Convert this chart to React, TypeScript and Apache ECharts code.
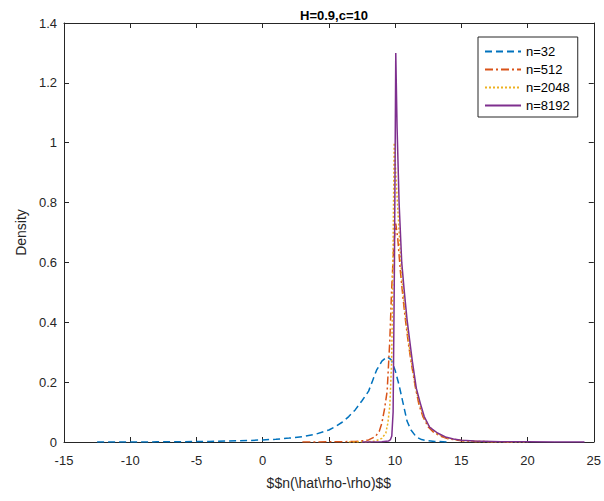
import React, { useEffect, useRef } from "react";
import * as echarts from "echarts";

const seriesNames = ["n=32", "n=512", "n=2048", "n=8192"];
const colors = ["#0072BD", "#D95319", "#EDB120", "#7E2F8E"];

const x32 = [-12.5, -11, -10, -8, -6, -4, -2, -1, 0, 1, 2, 3, 4, 5, 5.5, 6, 6.5, 7, 7.5, 8, 8.3, 8.6, 9, 9.4, 9.7, 10, 10.3, 10.6, 10.9, 11.2, 11.6, 12, 12.5, 13, 14];
const y32 = [0, 0, 0, 0.0005, 0.001, 0.002, 0.004, 0.005, 0.007, 0.009, 0.013, 0.018, 0.026, 0.04, 0.052, 0.066, 0.085, 0.108, 0.138, 0.17, 0.205, 0.24, 0.27, 0.285, 0.275, 0.24, 0.19, 0.13, 0.07, 0.04, 0.017, 0.008, 0.004, 0.002, 0];

const x512 = [3, 5, 6, 7, 7.5, 8, 8.5, 8.8, 9, 9.2, 9.4, 9.6, 9.73, 9.9, 10.05, 10.2, 10.4, 10.6, 10.8, 11, 11.2, 11.5, 11.8, 12.1, 12.5, 12.9, 13.4, 14, 15, 16, 17, 18, 19];
const y512 = [0, 0.0005, 0.001, 0.002, 0.004, 0.007, 0.018, 0.035, 0.063, 0.11, 0.17, 0.34, 0.5, 0.66, 0.73, 0.68, 0.57, 0.48, 0.4, 0.33, 0.27, 0.19, 0.125, 0.085, 0.05, 0.033, 0.02, 0.011, 0.004, 0.002, 0.001, 0.0005, 0];

const x2048 = [6.5, 8, 8.5, 9, 9.3, 9.45, 9.6, 9.73, 9.8, 9.87, 9.93, 10.05, 10.2, 10.5, 10.7, 10.9, 11.1, 11.3, 11.6, 11.9, 12.2, 12.6, 13.2, 14, 15, 16, 18, 20];
const y2048 = [0, 0.001, 0.003, 0.012, 0.03, 0.063, 0.12, 0.26, 0.45, 0.75, 1.0, 0.9, 0.78, 0.55, 0.46, 0.38, 0.31, 0.25, 0.17, 0.12, 0.08, 0.05, 0.027, 0.012, 0.005, 0.002, 0.0005, 0];

const x8192 = [7.5, 9, 9.5, 9.65, 9.75, 9.85, 9.95, 10.05, 10.15, 10.3, 10.5, 10.7, 10.9, 11.1, 11.3, 11.6, 11.9, 12.2, 12.6, 13.2, 13.8, 14.4, 15, 16, 18, 20, 22, 24.3];
const y8192 = [0, 0.0005, 0.003, 0.008, 0.02, 0.1, 0.6, 1.3, 1.05, 0.8, 0.6, 0.5, 0.41, 0.34, 0.27, 0.18, 0.13, 0.085, 0.05, 0.03, 0.017, 0.01, 0.006, 0.003, 0.001, 0.0005, 0.0002, 0];

const xs = [x32, x512, x2048, x8192];
const ys = [y32, y512, y2048, y8192];
const dashes: any[] = [[7, 4], [8, 3, 2, 3], [2, 2], "solid"];

const titleText = "H=0.9,c=10";
const xName = "$$n(\\hat\\rho-\\rho)$$";
const yName = "Density";

const axisColor = "#262626";
const font = "Liberation Sans, Arial, Helvetica, sans-serif";

export default function App() {
  const ref = useRef<HTMLDivElement>(null);
  useEffect(() => {
    if (!ref.current) return;
    const chart = echarts.init(ref.current, null, { renderer: "svg" });
    const series = seriesNames.map((name, i) => ({
      name,
      type: "line",
      showSymbol: false,
      symbol: "none",
      data: xs[i].map((x, j) => [x, ys[i][j]]),
      lineStyle: { color: colors[i], width: 1.5, type: dashes[i] },
      itemStyle: { color: colors[i] },
      z: 2 + i,
    }));
    const baseAxis = {
      axisLine: { show: true, onZero: false, lineStyle: { color: axisColor, width: 1 } },
      axisTick: { show: true, inside: true, length: 5, lineStyle: { color: axisColor } },
      splitLine: { show: false },
    };
    chart.setOption({
      animation: false,
      backgroundColor: "#fff",
      textStyle: { fontFamily: font },
      title: {
        text: titleText,
        left: 329,
        textAlign: "center",
        top: 4,
        textStyle: { fontSize: 13, fontWeight: "bold", color: "#000", fontFamily: font },
      },
      legend: {
        orient: "vertical",
        left: 478,
        top: 37,
        padding: [8, 8, 5, 6],
        itemWidth: 36,
        itemHeight: 14,
        itemGap: 5,
        borderColor: axisColor,
        borderWidth: 1,
        backgroundColor: "#fff",
        itemStyle: { opacity: 0 },
        textStyle: { fontSize: 13, color: "#000", fontFamily: font },
        data: seriesNames,
      },
      grid: { left: 64, right: 10, top: 23, bottom: 59, containLabel: false },
      xAxis: [
        {
          ...baseAxis,
          type: "value",
          min: -15,
          max: 25,
          interval: 5,
          name: xName,
          nameLocation: "middle",
          nameGap: 34,
          nameTextStyle: { fontSize: 14, color: axisColor, fontFamily: font },
          axisLabel: { fontSize: 13, color: axisColor, margin: 12, fontFamily: font },
        },
        {
          ...baseAxis,
          type: "value",
          position: "top",
          min: -15,
          max: 25,
          interval: 5,
          axisLabel: { show: false },
        },
      ],
      yAxis: [
        {
          ...baseAxis,
          type: "value",
          min: 0,
          max: 1.4,
          interval: 0.2,
          name: yName,
          nameLocation: "middle",
          nameGap: 36,
          nameTextStyle: { fontSize: 14, color: axisColor, fontFamily: font },
          axisLabel: {
            fontSize: 13,
            color: axisColor,
            margin: 7,
            fontFamily: font,
            formatter: (v: number) => String(Math.round(v * 10) / 10),
          },
        },
        {
          ...baseAxis,
          type: "value",
          position: "right",
          min: 0,
          max: 1.4,
          interval: 0.2,
          axisLabel: { show: false },
        },
      ],
      series,
    });
    return () => chart.dispose();
  }, []);
  return <div ref={ref} style={{ width: 604, height: 501, position: "absolute", left: 0, top: 0 }} />;
}
